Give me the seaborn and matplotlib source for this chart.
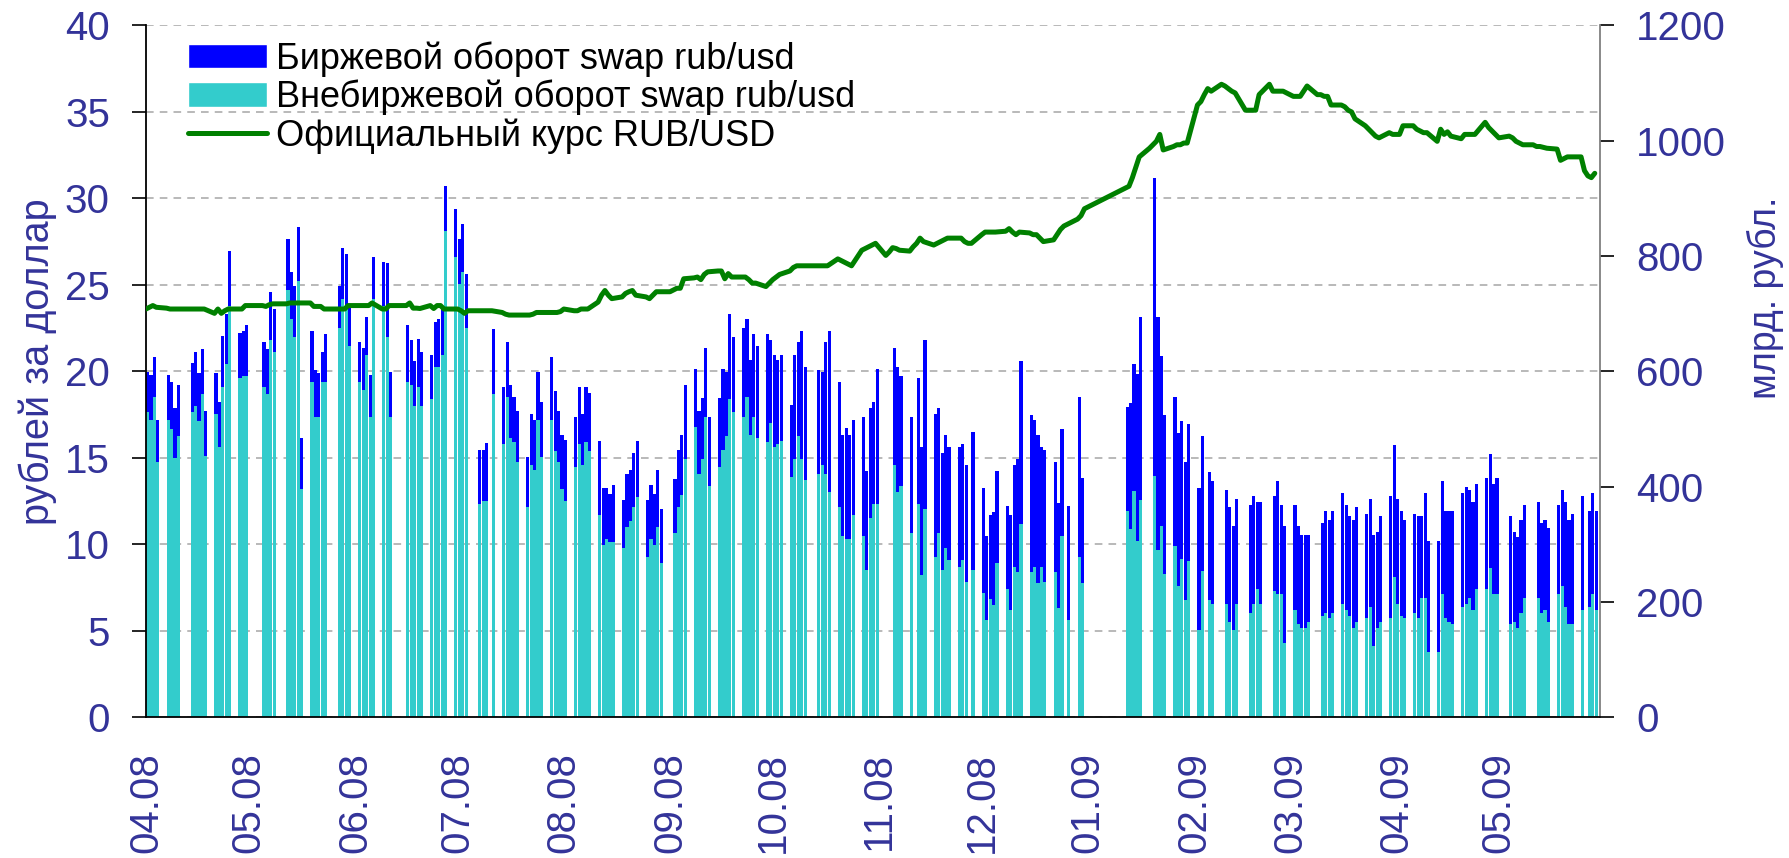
import numpy as np
import pandas as pd
import matplotlib
matplotlib.use('Agg')
import matplotlib.pyplot as plt
import matplotlib.dates as mdates
from matplotlib.ticker import MultipleLocator
from matplotlib.patches import Patch
from matplotlib.lines import Line2D
import seaborn as sns

sns.set_style('white')
plt.rcParams['font.family'] = ['Liberation Sans', 'DejaVu Sans']

# торговые дни по неделям (пн-пт), первая неделя начинается 31.03.2008
first_monday = '2008-03-31'

# биржевой оборот swap rub/usd, млрд. руб.
exch_weeks = [
    (None, 68, 78, 68, 73), (78, 83, 88, 89, None), (84, 94, 83, 78, 78),
    (72, 77, 89, 88, 95), (78, 78, 89, None, None), (78, 78, 84, 75, None),
    (89, 83, 88, 95, 88), (88, 83, 77, 52, 83), (None, 73, 89, 90, 71),
    (68, 73, 67, 73, 73), (75, 128, 78, None, None), (98, 78, 78, 84, 94),
    (78, 78, 84, 83, 79), (83, 78, 83, 93, None), (93, 89, 100, None, 113),
    (99, 94, 93, 79, 88), (88, 89, 88, 83, 94), (110, 104, 88, 93, 105),
    (88, 99, 88, 95, 100), (128, 99, 88, 84, 100), (83, 91, 88, 95, 98),
    (98, 93, 88, 98, 93), (None, 93, 100, 105, 129), (100, 109, 105, 119, 120),
    (120, 140, 110, 149, 129), (155, 134, 129, 145, 159), (187, 144, 160, 146, 150),
    (126, 182, 162, 222, 197), (None, 181, 161, 229, 279), (218, 176, 192, 181, 165),
    (207, 171, 192, 176, 234), (None, None, 203, 218, 191), (201, None, 218, 221, 294),
    (248, 217, 202, 196, 197), (207, 202, 202, None, 238), (182, 145, 146, 160, 160),
    (144, 166, 176, 196, 283), (273, 255, 258, 208, 229), (191, 182, 186, None, 197),
    (278, 183, None, None, None), (None, None, None, None, None),
    (181, 219, 219, 290, 317), (None, 517, 404, 295, 275), (259, 264, 239, 239, 239),
    (246, 233, None, 223, 213), (None, 197, 199, 181, 182), (None, 187, 187, 150, 176),
    (None, 165, 196, 154, 203), (182, 171, 161, 161, 151), (None, 161, 177, 171, 177),
    (192, 182, 172, 187, 199), (182, 188, 193, 166, 183), (213, 229, 182, 182, 171),
    (172, 177, 141, 182, 193), (193, 197, 187, 193, 197), (198, 203, 187, 187, 182),
    (192, 198, 192, 202, None), (187, 156, 157, 161, 161), (None, 166, 156, 156, 163),
    (155, 166, 182, 181, 192), (198, None, 167, 176, 172),
]

# внебиржевой оборот swap rub/usd, млрд. руб.
otc_weeks = [
    (None, 530, 515, 556, 443), (515, 499, 449, 488, None), (530, 540, 514, 561, 453),
    (525, 469, 572, 612, 714), (588, 591, 591, None, None), (572, 561, 654, 633, None),
    (741, 690, 660, 756, 396), (582, 520, 520, 582, 582), (None, 675, 725, 714, 643),
    (582, 567, 628, 520, 725), (714, 660, 520, None, None), (582, 577, 540, 572, 540),
    (551, 607, 607, 628, 843), (799, 752, 772, 675, None), (370, 375, 375, None, 561),
    (473, 556, 484, 477, 443), (364, 437, 428, 515, 452), (515, 462, 443, 396, 375),
    (433, 473, 438, 477, 462), (351, 299, 309, 303, 303), (294, 330, 340, 364, 381),
    (278, 309, 299, 330, 268), (None, 320, 364, 385, 448), (504, 422, 448, 521, 401),
    (433, 464, 488, 551, 530), (520, 556, 490, 520, 485), (477, 510, 469, 473, 479),
    (416, 447, 488, 447, 411), (None, 422, 437, 421, 390), (364, 314, 309, 309, 351),
    (314, 256, 345, 370, 370), (None, None, 437, 390, 401), (320, None, 370, 247, 361),
    (277, 320, 256, 294, 272), (261, 272, 235, None, 256), (216, 169, 205, 195, 267),
    (222, 185, 261, 251, 335), (251, 261, 232, 261, 235), (251, 190, 314, None, 169),
    (278, 232, None, None, None), (None, None, None, None, None),
    (357, 326, 393, 306, 377), (None, 419, 290, 332, 249), (296, 228, 274, 203, 270),
    (151, 254, None, 203, 197), (None, 197, 165, 151, 197), (None, 181, 197, 223, 197),
    (None, 219, 214, 214, 129), (186, 161, 155, 155, 165), (None, 176, 181, 171, 181),
    (197, 186, 176, 155, 165), (171, 191, 123, 155, 165), (171, 243, 197, 176, 171),
    (181, 171, 207, 207, 113), (113, 213, 171, 165, 161), (191, 197, 207, 186, 223),
    (223, 258, 213, 213, None), (161, 165, 155, 181, 207), (None, 207, 181, 186, 165),
    (213, 228, 191, 161, 161), (186, None, 191, 213, 186),
]

# официальный курс RUB/USD
rate_weeks = [
    (None, 23.6, 23.7, 23.8, 23.7), (23.65, 23.6, 23.6, 23.6, 23.6), (23.6, 23.6, 23.6, 23.6, 23.6),
    (23.35, 23.6, 23.35, 23.5, 23.6), (23.6, 23.6, 23.8, 23.8, 23.8), (23.8, 23.75, 23.85, 23.9, 23.9),
    (23.9, 23.95, 23.95, 23.95, 23.95), (23.95, 23.75, 23.75, 23.75, 23.6), (23.6, 23.6, 23.6, 23.6, 23.8),
    (23.8, 23.8, 23.8, 23.8, 23.95), (23.6, 23.6, 23.8, 23.8, 23.8), (23.8, 23.95, 23.65, 23.65, 23.63),
    (23.8, 23.63, 23.8, 23.8, 23.6), (23.6, 23.6, 23.5, 23.35, 23.5), (23.5, 23.5, 23.5, 23.5, 23.5),
    (23.4, 23.3, 23.25, 23.25, 23.25), (23.25, 23.25, 23.3, 23.4, 23.4), (23.4, 23.4, 23.4, 23.45, 23.6),
    (23.5, 23.5, 23.6, 23.6, 23.6), (24.0, 24.4, 24.67, 24.4, 24.2), (24.3, 24.5, 24.6, 24.67, 24.4),
    (24.3, 24.2, 24.4, 24.6, 24.6), (24.6, 24.7, 24.8, 24.8, 25.35), (25.4, 25.45, 25.3, 25.6, 25.75),
    (25.8, 25.8, 25.35, 25.65, 25.45), (25.45, 25.45, 25.3, 25.1, 25.1), (24.9, 25.1, 25.3, 25.45, 25.6),
    (25.8, 26.0, 26.1, 26.1, 26.1), (26.1, 26.1, 26.1, 26.1, 26.1), (26.5, 26.4, 26.3, 26.2, 26.1),
    (27.0, 27.1, 27.2, 27.3, 27.4), (26.7, 26.9, 27.15, 27.1, 27.0), (26.95, 27.2, 27.4, 27.7, 27.5),
    (27.3, 27.4, 27.5, 27.6, 27.7), (27.7, 27.7, 27.5, 27.4, 27.4), (27.9, 28.05, 28.05, 28.05, 28.05),
    (28.1, 28.25, 28.05, 27.9, 28.05), (28.0, 27.9, 27.9, 27.7, 27.5), (27.6, 27.9, 28.2, 28.4, 28.5),
    (28.8, 29.0, 29.4, None, None), (None, None, None, None, None),
    (30.6, 30.7, 31.2, 31.8, 32.4), (32.9, 33.1, 33.3, 33.7, 32.8), (33.0, 33.1, 33.1, 33.2, 33.2),
    (35.4, 35.6, 36.0, 36.35, 36.2), (36.6, 36.5, 36.35, 36.2, 36.1), (35.1, 35.1, 35.1, 35.1, 36.0),
    (36.6, 36.2, 36.2, 36.2, 36.2), (35.9, 35.9, 35.9, 36.2, 36.5), (36.0, 36.0, 35.9, 35.9, 35.4),
    (35.4, 35.3, 35.1, 35.0, 34.6), (34.2, 34.0, 33.8, 33.6, 33.5), (33.8, 33.7, 33.7, 33.7, 34.2),
    (34.2, 34.0, 33.9, 33.8, 33.8), (33.3, 34.0, 33.7, 33.85, 33.6), (33.45, 33.7, 33.7, 33.7, 33.7),
    (34.4, 34.1, 33.9, 33.7, 33.5), (33.6, 33.5, 33.3, 33.2, 33.1), (33.1, 33.0, 33.0, 32.95, 32.9),
    (32.85, 32.2, 32.3, 32.4, 32.4), (32.4, 31.6, 31.3, 31.2, 31.45),
]

labels = ['Биржевой оборот swap rub/usd',
          'Внебиржевой оборот swap rub/usd',
          'Официальный курс RUB/USD']


def flat(weeks):
    return [np.nan if v is None else v for w in weeks for v in w]


days = pd.bdate_range(first_monday, periods=5 * len(exch_weeks))
df = pd.DataFrame({'date': days, 'exch': flat(exch_weeks),
                   'otc': flat(otc_weeks), 'rate': flat(rate_weeks)})
bars = df.dropna(subset=['otc'])
line = df.dropna(subset=['rate'])

navy = '#333399'
c_exch, c_otc, c_rate = '#0000FF', '#33CCCC', '#008000'

fig = plt.figure(figsize=(17.89, 8.58), dpi=100)
ax = fig.add_axes([0.0816, 0.1643, 0.8127, 0.806])  # обороты, правая шкала
ax2 = ax.twinx()                                      # курс, левая шкала

ax.bar(bars['date'], bars['otc'], width=0.92, align='edge', color=c_otc, linewidth=0)
ax.bar(bars['date'], bars['exch'], bottom=bars['otc'], width=0.92, align='edge',
       color=c_exch, linewidth=0)
sns.lineplot(data=line, x='date', y='rate', ax=ax2, color=c_rate, linewidth=3.6,
             legend=False)
for l in ax2.lines:
    l.set_solid_joinstyle('round')
    l.set_solid_capstyle('round')

ax.set_xlim(pd.Timestamp('2008-04-01'), pd.Timestamp('2009-05-30 12:00'))
ax.set_ylim(0, 1200)
ax2.set_ylim(0, 40)
ax.yaxis.tick_right()
ax2.yaxis.tick_left()
ax.set_yticks(range(0, 1201, 200))
ax2.set_yticks(range(0, 41, 5))

# сетка по делениям левой шкалы (каждые 5 руб = 150 млрд), позади столбцов
ax.yaxis.set_minor_locator(MultipleLocator(150))
ax.yaxis.remove_overlapping_locs = False
ax.grid(which='minor', axis='y', color='#A6A6A6', linestyle=(0, (5, 4)), linewidth=1.1)
ax.grid(which='major', axis='y', visible=False)
ax.set_axisbelow(True)
ax.tick_params(axis='y', which='minor', length=0, left=False, right=False)

ax.xaxis.set_major_locator(mdates.MonthLocator())
ax.xaxis.set_major_formatter(mdates.DateFormatter('%m.%y'))

ax.tick_params(axis='y', which='major', right=True, left=False, direction='out',
               length=10, width=1.2, pad=16, labelsize=29, labelcolor=navy, color='black')
ax2.tick_params(axis='y', direction='out', length=10, width=1.2, pad=16,
                labelsize=29, labelcolor=navy, color='black')
ax.tick_params(axis='x', direction='out', length=9.5, width=1.2, pad=16,
               labelsize=29, labelcolor=navy, labelrotation=90, color='black')

ax.set_xlabel('')
ax.set_ylabel('')
ax2.set_xlabel('')
ax2.set_ylabel('')

for s in ax2.spines.values():
    s.set_visible(False)
ax.spines['top'].set_visible(False)
ax.spines['left'].set_color('black')
ax.spines['bottom'].set_color('black')
ax.spines['right'].set_color('#808080')
for s in ('left', 'bottom', 'right'):
    ax.spines[s].set_linewidth(1.3)

fig.text(0.0212, 0.578, 'рублей за доллар', rotation=90, ha='center', va='center',
         color=navy, fontsize=28.5)
fig.text(0.9866, 0.653, 'млрд. рубл.', rotation=90, ha='center', va='center',
         color=navy, fontsize=27)

handles = [Patch(facecolor=c_exch), Patch(facecolor=c_otc),
           Line2D([], [], color=c_rate, linewidth=3.6, solid_capstyle='round')]
fig.legend(handles, labels, loc='upper left', bbox_to_anchor=(0.1051, 0.952),
           frameon=False, fontsize=26, labelcolor='black', handlelength=2.2,
           handleheight=0.66, labelspacing=0.08, handletextpad=0.25,
           borderpad=0, borderaxespad=0)

fig.savefig('out.png', dpi=100)
